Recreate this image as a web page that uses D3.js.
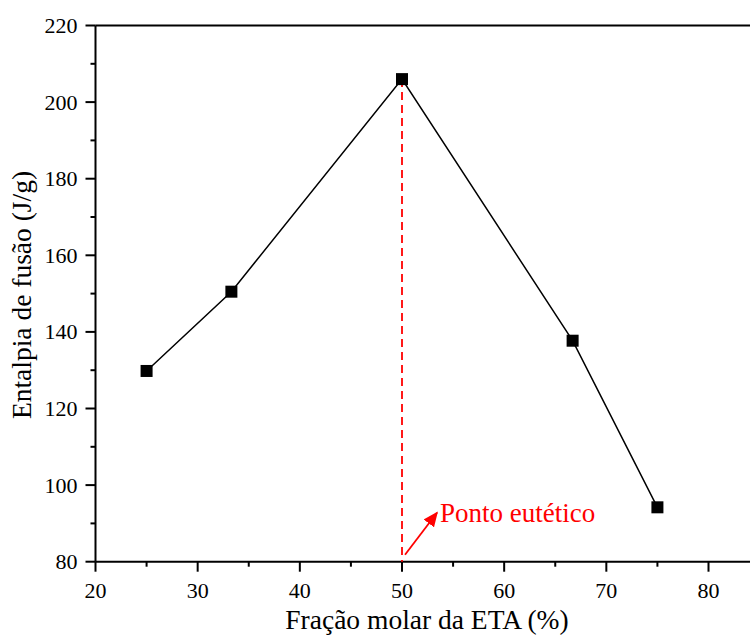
<!DOCTYPE html>
<html>
<head>
<meta charset="utf-8">
<script src="https://cdn.jsdelivr.net/npm/d3@7"></script>
<style>
  body { margin: 0; background: #fff; }
  text { font-family: "Liberation Serif", "Times New Roman", serif; }
</style>
</head>
<body>
<svg width="750" height="635"></svg>
<script>
// data
var fracao = [25, 33.3, 50, 66.7, 75];
var entalpia = [129.8, 150.5, 206, 137.7, 94.2];
var xTicks = [20, 30, 40, 50, 60, 70, 80];
var yTicks = [80, 100, 120, 140, 160, 180, 200, 220];
var eutetico = 50;

var svg = d3.select('svg'),
  margin = {top: 25.5, left: 95.5},
  x = d3.scaleLinear().domain([20, 80]).range([margin.left, 708.5]),
  y = d3.scaleLinear().domain([80, 220]).range([561.7, margin.top]);

var data = fracao.map(function(d, i) { return {x: d, y: entalpia[i]}; });

// frame top line (right side is cut off by the window)
svg.append('line')
  .attr('x1', margin.left).attr('x2', 750)
  .attr('y1', y(220)).attr('y2', y(220))
  .attr('stroke', '#000').attr('stroke-width', 2);

// x axis
var xAxis = svg.append('g')
  .attr('transform', 'translate(0,' + y(80) + ')');
xAxis.append('line')
  .attr('x1', margin.left).attr('x2', 750)
  .attr('stroke', '#000').attr('stroke-width', 2);
xAxis.selectAll('.maj').data(xTicks).enter().append('line')
  .attr('x1', x).attr('x2', x).attr('y1', 0).attr('y2', 10)
  .attr('stroke', '#000').attr('stroke-width', 2);
xAxis.selectAll('.min').data(d3.range(25, 90, 10)).enter().append('line')
  .attr('x1', x).attr('x2', x).attr('y1', 0).attr('y2', 5)
  .attr('stroke', '#000').attr('stroke-width', 2);
xAxis.selectAll('text').data(xTicks).enter().append('text')
  .attr('x', x).attr('y', 36)
  .attr('text-anchor', 'middle')
  .style('font-size', '22px')
  .text(function(d) { return d; });

// y axis
var yAxis = svg.append('g')
  .attr('transform', 'translate(' + margin.left + ',0)');
yAxis.append('line')
  .attr('y1', y(80)).attr('y2', y(220))
  .attr('stroke', '#000').attr('stroke-width', 2);
yAxis.selectAll('.maj').data(yTicks).enter().append('line')
  .attr('y1', y).attr('y2', y).attr('x1', 0).attr('x2', -10)
  .attr('stroke', '#000').attr('stroke-width', 2);
yAxis.selectAll('.min').data(d3.range(90, 220, 20)).enter().append('line')
  .attr('y1', y).attr('y2', y).attr('x1', 0).attr('x2', -5)
  .attr('stroke', '#000').attr('stroke-width', 2);
yAxis.selectAll('text').data(yTicks).enter().append('text')
  .attr('x', -18).attr('y', function(d) { return y(d) + 7.5; })
  .attr('text-anchor', 'end')
  .style('font-size', '22px')
  .text(function(d) { return d; });

// axis titles
svg.append('text')
  .attr('x', 427).attr('y', 629)
  .attr('text-anchor', 'middle')
  .style('font-size', '27.5px')
  .text('Fração molar da ETA (%)');
svg.append('text')
  .attr('transform', 'translate(31,295) rotate(-90)')
  .attr('text-anchor', 'middle')
  .style('font-size', '27.5px')
  .text('Entalpia de fusão (J/g)');

// dashed eutectic line
svg.append('line')
  .attr('x1', x(eutetico)).attr('x2', x(eutetico))
  .attr('y1', y(d3.max(entalpia))).attr('y2', y(80))
  .attr('stroke', 'red').attr('stroke-width', 1.8)
  .attr('stroke-dasharray', '8,5');

// data line + markers
svg.append('path')
  .datum(data)
  .attr('fill', 'none')
  .attr('stroke', '#000')
  .attr('stroke-width', 1.5)
  .attr('d', d3.line().x(function(d) { return x(d.x); }).y(function(d) { return y(d.y); }));

svg.selectAll('.pt').data(data).enter().append('rect')
  .attr('x', function(d) { return x(d.x) - 6; })
  .attr('y', function(d) { return y(d.y) - 6; })
  .attr('width', 12).attr('height', 12)
  .attr('fill', '#000');

// arrow + label
svg.append('defs').append('marker')
  .attr('id', 'head')
  .attr('viewBox', '0 0 10 10')
  .attr('refX', 9).attr('refY', 5)
  .attr('markerWidth', 15).attr('markerHeight', 13)
  .attr('markerUnits', 'userSpaceOnUse')
  .attr('orient', 'auto')
  .attr('preserveAspectRatio', 'none')
  .append('path')
  .attr('d', 'M0,0 L10,5 L0,10 Z')
  .attr('fill', 'red');

svg.append('line')
  .attr('x1', x(eutetico) + 3).attr('y1', y(80) - 7)
  .attr('x2', x(eutetico) + 35).attr('y2', y(80) - 49)
  .attr('stroke', 'red').attr('stroke-width', 1.8)
  .attr('marker-end', 'url(#head)');

svg.append('text')
  .attr('x', x(eutetico) + 38).attr('y', y(80) - 40)
  .attr('fill', 'red')
  .style('font-size', '27px')
  .text('Ponto eutético');
</script>
</body>
</html>
